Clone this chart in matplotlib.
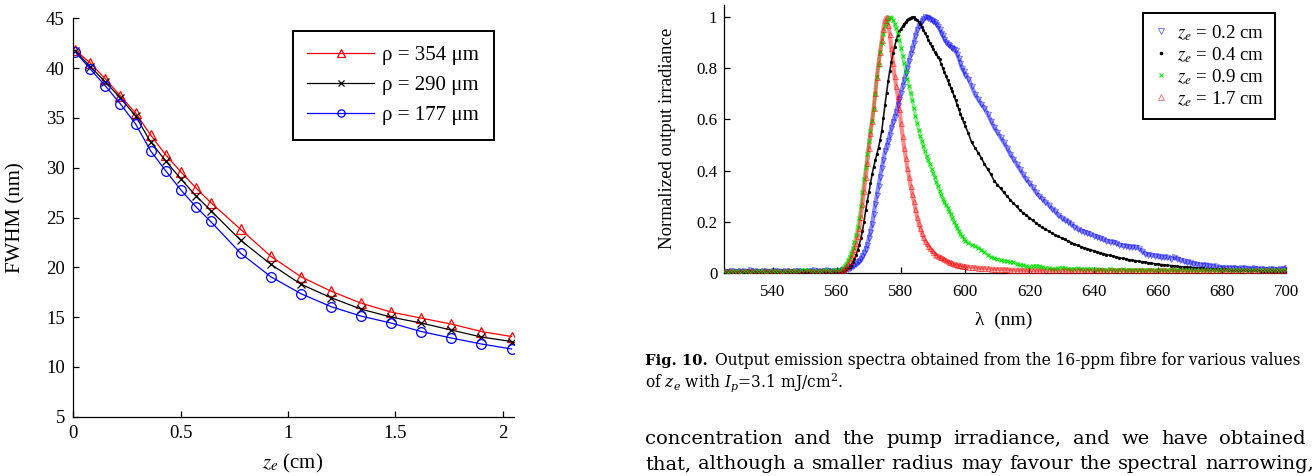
import numpy as np
import matplotlib
matplotlib.use("Agg")
import matplotlib.pyplot as plt

plt.rcParams['font.family'] = 'Liberation Serif'
plt.rcParams['mathtext.fontset'] = 'stix'

TEXT_FONT = 'DejaVu Serif'   # caption / running text of the page

# ---------------------------------------------------------------------------
# FWHM vs z_e for three core radii
# ---------------------------------------------------------------------------
ze_cm = [0.01, 0.08, 0.15, 0.22, 0.29, 0.36, 0.43, 0.50, 0.57, 0.64,
         0.78, 0.92, 1.06, 1.20, 1.34, 1.48, 1.62, 1.76, 1.90, 2.04]
fwhm_354 = [41.8, 40.5, 38.9, 37.2, 35.5, 33.3, 31.3, 29.6, 28.0, 26.5,
            23.8, 21.1, 19.05, 17.6, 16.4, 15.5, 14.9, 14.3, 13.55, 13.05]
fwhm_290 = [41.7, 40.15, 38.6, 37.0, 35.2, 32.6, 30.7, 28.9, 27.2, 25.7,
            22.7, 20.3, 18.3, 16.95, 15.8, 15.0, 14.4, 13.7, 13.0, 12.55]
fwhm_177 = [41.6, 39.9, 38.2, 36.4, 34.4, 31.7, 29.7, 27.8, 26.1, 24.6,
            21.4, 19.05, 17.35, 16.05, 15.1, 14.4, 13.55, 12.9, 12.3, 11.8]
radius_labels = ['ρ = 354 μm', 'ρ = 290 μm', 'ρ = 177 μm']

# ---------------------------------------------------------------------------
# Fig. 10: normalised output spectra, 16-ppm fibre
# wavelength sampling: 1 nm up to 560, 0.5 nm over the peak, 1 nm after 600
# ---------------------------------------------------------------------------
wl_nm = np.concatenate([np.arange(525, 561), np.arange(561, 600.5, 0.5),
                        np.arange(601, 701)])

spec_02 = [
    # 525-560
    0.006, 0.004, 0.008, 0.005, 0.003, 0.007, 0.006, 0.004, 0.009, 0.005, 0.006, 0.003,
    0.007, 0.005, 0.004, 0.008, 0.006, 0.005, 0.003, 0.006, 0.007, 0.004, 0.005, 0.008,
    0.006, 0.004, 0.005, 0.007, 0.009, 0.006, 0.005, 0.008, 0.010, 0.007, 0.006, 0.008,
    # 561-600 (0.5 nm)
    0.008, 0.009, 0.010, 0.012, 0.014, 0.016, 0.019, 0.022, 0.026, 0.030,
    0.034, 0.040, 0.046, 0.055, 0.065, 0.078, 0.092, 0.110, 0.135, 0.160,
    0.190, 0.230, 0.270, 0.305, 0.340, 0.375, 0.410, 0.440, 0.475, 0.495,
    0.515, 0.540, 0.565, 0.590, 0.610, 0.630, 0.655, 0.680, 0.705, 0.730,
    0.755, 0.780, 0.800, 0.830, 0.855, 0.875, 0.900, 0.925, 0.950, 0.965,
    0.975, 0.985, 0.995, 1.000, 1.000, 0.998, 0.995, 0.990, 0.985, 0.980,
    0.975, 0.965, 0.955, 0.940, 0.930, 0.915, 0.905, 0.895, 0.890, 0.885,
    0.880, 0.875, 0.870, 0.855, 0.840, 0.820, 0.800, 0.790, 0.775,
    # 601-700
    0.760, 0.730, 0.700, 0.680, 0.660, 0.645, 0.620, 0.595, 0.570, 0.550,
    0.530, 0.510, 0.490, 0.465, 0.445, 0.425, 0.405, 0.385, 0.365, 0.350,
    0.335, 0.315, 0.300, 0.290, 0.275, 0.265, 0.250, 0.240, 0.225, 0.215,
    0.205, 0.200, 0.190, 0.180, 0.170, 0.165, 0.160, 0.155, 0.150, 0.145,
    0.140, 0.135, 0.130, 0.125, 0.120, 0.120, 0.115, 0.110, 0.105, 0.105,
    0.100, 0.100, 0.100, 0.095, 0.085, 0.075, 0.070, 0.070, 0.065, 0.065,
    0.060, 0.060, 0.060, 0.055, 0.060, 0.055, 0.050, 0.045, 0.040, 0.040,
    0.035, 0.035, 0.030, 0.030, 0.030, 0.025, 0.025, 0.025, 0.020, 0.020,
    0.020, 0.020, 0.018, 0.020, 0.015, 0.018, 0.020, 0.015, 0.015, 0.018,
    0.015, 0.015, 0.015, 0.012, 0.015, 0.015, 0.012, 0.015, 0.015, 0.020,
]

spec_04 = [
    # 525-560
    0.002, 0.002, 0.002, 0.002, 0.002, 0.002, 0.002, 0.002, 0.002, 0.002, 0.002, 0.002,
    0.002, 0.002, 0.002, 0.002, 0.002, 0.002, 0.002, 0.002, 0.002, 0.002, 0.002, 0.002,
    0.002, 0.002, 0.002, 0.002, 0.002, 0.002, 0.002, 0.002, 0.002, 0.003, 0.003, 0.003,
    # 561-600 (0.5 nm)
    0.003, 0.004, 0.006, 0.009, 0.013, 0.018, 0.024, 0.032, 0.041, 0.054,
    0.070, 0.088, 0.110, 0.135, 0.165, 0.200, 0.245, 0.280, 0.315, 0.350,
    0.385, 0.415, 0.440, 0.465, 0.490, 0.520, 0.555, 0.605, 0.655, 0.705,
    0.750, 0.790, 0.825, 0.860, 0.885, 0.910, 0.930, 0.945, 0.955, 0.965,
    0.975, 0.982, 0.990, 0.995, 0.998, 1.000, 1.000, 0.995, 0.990, 0.983,
    0.975, 0.963, 0.950, 0.938, 0.925, 0.912, 0.900, 0.887, 0.875, 0.865,
    0.855, 0.845, 0.835, 0.818, 0.800, 0.785, 0.770, 0.755, 0.740, 0.725,
    0.710, 0.693, 0.675, 0.658, 0.640, 0.622, 0.605, 0.590, 0.575,
    # 601-700
    0.545, 0.510, 0.490, 0.470, 0.450, 0.425, 0.405, 0.385, 0.360, 0.345,
    0.330, 0.315, 0.300, 0.285, 0.272, 0.260, 0.245, 0.235, 0.225, 0.215,
    0.205, 0.195, 0.185, 0.177, 0.170, 0.163, 0.155, 0.148, 0.142, 0.136,
    0.130, 0.124, 0.118, 0.112, 0.107, 0.102, 0.098, 0.094, 0.090, 0.086,
    0.082, 0.078, 0.075, 0.071, 0.068, 0.065, 0.062, 0.059, 0.056, 0.054,
    0.051, 0.049, 0.047, 0.045, 0.043, 0.041, 0.039, 0.037, 0.035, 0.034,
    0.032, 0.031, 0.029, 0.028, 0.027, 0.025, 0.024, 0.023, 0.022, 0.021,
    0.020, 0.019, 0.018, 0.017, 0.016, 0.016, 0.015, 0.014, 0.014, 0.013,
    0.013, 0.012, 0.012, 0.011, 0.011, 0.010, 0.010, 0.010, 0.009, 0.009,
    0.009, 0.008, 0.008, 0.008, 0.007, 0.007, 0.007, 0.006, 0.006, 0.006,
]

spec_09 = [
    # 525-560
    0.005, 0.004, 0.006, 0.005, 0.007, 0.004, 0.005, 0.006, 0.004, 0.005, 0.007, 0.006,
    0.005, 0.004, 0.006, 0.008, 0.005, 0.006, 0.004, 0.005, 0.007, 0.006, 0.005, 0.006,
    0.009, 0.012, 0.010, 0.007, 0.006, 0.008, 0.007, 0.009, 0.010, 0.008, 0.009, 0.011,
    # 561-600 (0.5 nm)
    0.012, 0.015, 0.020, 0.027, 0.035, 0.048, 0.062, 0.078, 0.095, 0.120,
    0.148, 0.180, 0.215, 0.260, 0.315, 0.365, 0.415, 0.465, 0.515, 0.555,
    0.595, 0.640, 0.700, 0.765, 0.815, 0.865, 0.900, 0.935, 0.965, 0.982,
    0.993, 1.000, 0.998, 0.990, 0.975, 0.958, 0.940, 0.910, 0.880, 0.850,
    0.820, 0.790, 0.760, 0.730, 0.705, 0.675, 0.645, 0.615, 0.585, 0.560,
    0.535, 0.515, 0.495, 0.475, 0.455, 0.440, 0.425, 0.405, 0.390, 0.375,
    0.355, 0.340, 0.320, 0.305, 0.290, 0.278, 0.265, 0.255, 0.242, 0.228,
    0.215, 0.200, 0.188, 0.175, 0.163, 0.152, 0.142, 0.133, 0.125,
    # 601-700
    0.118, 0.110, 0.104, 0.098, 0.090, 0.080, 0.070, 0.062, 0.056, 0.052,
    0.050, 0.047, 0.045, 0.042, 0.040, 0.036, 0.032, 0.030, 0.026, 0.023,
    0.025, 0.028, 0.025, 0.021, 0.020, 0.018, 0.016, 0.015, 0.018, 0.020,
    0.018, 0.016, 0.014, 0.015, 0.017, 0.015, 0.013, 0.014, 0.016, 0.013,
    0.012, 0.014, 0.011, 0.012, 0.015, 0.012, 0.010, 0.011, 0.013, 0.010,
    0.011, 0.012, 0.010, 0.009, 0.011, 0.010, 0.012, 0.010, 0.009, 0.010,
    0.011, 0.009, 0.010, 0.012, 0.010, 0.009, 0.011, 0.010, 0.009, 0.010,
    0.012, 0.010, 0.009, 0.011, 0.010, 0.012, 0.010, 0.009, 0.010, 0.011,
    0.010, 0.009, 0.011, 0.010, 0.012, 0.010, 0.009, 0.010, 0.011, 0.010,
    0.009, 0.010, 0.011, 0.010, 0.009, 0.010, 0.012, 0.010, 0.009, 0.010,
]

spec_17 = [
    # 525-560
    0.006, 0.005, 0.007, 0.006, 0.004, 0.006, 0.005, 0.007, 0.006, 0.005, 0.006, 0.004,
    0.006, 0.005, 0.007, 0.006, 0.005, 0.004, 0.006, 0.005, 0.007, 0.006, 0.005, 0.006,
    0.004, 0.006, 0.005, 0.007, 0.006, 0.005, 0.006, 0.005, 0.007, 0.006, 0.007, 0.007,
    # 561-600 (0.5 nm)
    0.008, 0.010, 0.013, 0.018, 0.025, 0.033, 0.045, 0.060, 0.075, 0.092,
    0.115, 0.145, 0.175, 0.220, 0.270, 0.320, 0.375, 0.430, 0.490, 0.545,
    0.595, 0.645, 0.705, 0.765, 0.820, 0.865, 0.910, 0.955, 0.990, 1.000,
    0.970, 0.935, 0.880, 0.820, 0.770, 0.730, 0.690, 0.640, 0.585, 0.535,
    0.490, 0.450, 0.410, 0.375, 0.340, 0.310, 0.280, 0.250, 0.220, 0.195,
    0.175, 0.155, 0.140, 0.125, 0.115, 0.105, 0.095, 0.088, 0.080, 0.075,
    0.070, 0.066, 0.063, 0.060, 0.056, 0.052, 0.048, 0.045, 0.042, 0.040,
    0.037, 0.035, 0.033, 0.032, 0.031, 0.030, 0.028, 0.027, 0.026,
    # 601-700
    0.024, 0.022, 0.021, 0.020, 0.019, 0.018, 0.017, 0.016, 0.015, 0.014,
    0.014, 0.013, 0.013, 0.012, 0.012, 0.011, 0.011, 0.011, 0.010, 0.010,
    0.010, 0.009, 0.010, 0.009, 0.008, 0.009, 0.010, 0.009, 0.008, 0.009,
    0.010, 0.009, 0.008, 0.009, 0.009, 0.010, 0.008, 0.009, 0.009, 0.008,
    0.009, 0.010, 0.009, 0.008, 0.009, 0.009, 0.008, 0.010, 0.009, 0.008,
    0.009, 0.008, 0.009, 0.010, 0.009, 0.008, 0.009, 0.009, 0.008, 0.009,
    0.010, 0.009, 0.008, 0.009, 0.009, 0.008, 0.010, 0.009, 0.008, 0.009,
    0.009, 0.008, 0.009, 0.010, 0.009, 0.008, 0.009, 0.009, 0.008, 0.009,
    0.010, 0.009, 0.008, 0.009, 0.009, 0.008, 0.010, 0.009, 0.008, 0.009,
    0.009, 0.008, 0.009, 0.010, 0.009, 0.008, 0.009, 0.009, 0.008, 0.009,
]
spectra_labels = ['$z_e$ = 0.2 cm', '$z_e$ = 0.4 cm', '$z_e$ = 0.9 cm', '$z_e$ = 1.7 cm']

for s in (spec_02, spec_04, spec_09, spec_17):
    assert len(s) == len(wl_nm), len(s)

# ---------------------------------------------------------------------------
W, H = 1312, 476
fig = plt.figure(figsize=(W / 100, H / 100), dpi=100)


def px_box(x0, y0, x1, y1):
    # pixel box measured from the top-left corner -> figure fraction rect
    return [x0 / W, 1 - y1 / H, (x1 - x0) / W, (y1 - y0) / H]


def style_axes(ax, fs, pad):
    for side in ('top', 'right'):
        ax.spines[side].set_visible(False)
    for side in ('left', 'bottom'):
        ax.spines[side].set_linewidth(0.9)
    ax.tick_params(direction='in', length=4, width=0.9, labelsize=fs, pad=pad)


# ---- left panel -----------------------------------------------------------
ax1 = fig.add_axes(px_box(73.2, 18.3, 514.3, 416.7))
ax1.plot(ze_cm, fwhm_354, color='red', lw=0.9, marker='^', ms=7, mfc='none',
         mew=0.9, label=radius_labels[0])
ax1.plot(ze_cm, fwhm_290, color='black', lw=0.9, marker='x', ms=6, mew=0.9,
         label=radius_labels[1])
ax1.plot(ze_cm, fwhm_177, color='blue', lw=0.9, marker='o', ms=7, mfc='none',
         mew=0.9, label=radius_labels[2])
ax1.set_xlim(0, 2.053)
ax1.set_ylim(5, 45)
ax1.set_xticks([0, 0.5, 1, 1.5, 2])
ax1.set_xticklabels(['0', '0.5', '1', '1.5', '2'])
ax1.set_yticks(range(5, 50, 5))
style_axes(ax1, 13.5, 6)
ax1.set_xlabel('$z_e$ (cm)', fontsize=15)
ax1.set_ylabel('FWHM (nm)', fontsize=15)
ax1.xaxis.label.set_va('center')
ax1.yaxis.label.set_va('center')
ax1.xaxis.set_label_coords((293 - 73.2) / 441.1, (416.7 - 463) / 398.4)
ax1.yaxis.set_label_coords((16 - 73.2) / 441.1, 0.5)
leg1 = ax1.legend(loc='upper left', bbox_to_anchor=(292.7 / W, 1 - 31 / H),
                  bbox_transform=fig.transFigure, borderaxespad=0,
                  fontsize=15, frameon=True, fancybox=False, framealpha=1,
                  edgecolor='black', handlelength=3.2, handletextpad=0.4,
                  borderpad=0.7, labelspacing=0.5, markerscale=0.75)
leg1.get_frame().set_linewidth(1.4)

# ---- right panel ----------------------------------------------------------
ax2 = fig.add_axes(px_box(724.4, 4.5, 1286.3, 272.7))
series = [
    (spec_02, dict(marker='v', ms=3.6, mfc='none', mec=(0, 0, 1, 0.6), mew=0.6), 'blue', 3.0, 0.45),
    (spec_04, dict(marker='.', ms=2.6, color='black'), 'black', 1.2, 0.9),
    (spec_09, dict(marker='x', ms=3.0, color='#00e000', mew=0.7), '#00e000', 2.4, 0.45),
    (spec_17, dict(marker='^', ms=3.6, mfc='none', mec=(1, 0, 0, 0.6), mew=0.6), 'red', 3.0, 0.45),
]
for (vals, mstyle, band_col, band_lw, band_alpha), lab in zip(series, spectra_labels):
    # densely sampled spectra: the marker trail reads as a continuous band
    ax2.plot(wl_nm, vals, color=band_col, lw=band_lw, alpha=band_alpha,
             solid_joinstyle='round', zorder=2)
    ax2.plot(wl_nm, vals, ls='none', label=lab, zorder=3, **mstyle)
ax2.set_xlim(525, 700)
ax2.set_ylim(0, 1.05)
ax2.set_xticks(range(540, 701, 20))
ax2.set_yticks([0, 0.2, 0.4, 0.6, 0.8, 1.0])
ax2.set_yticklabels(['0', '0.2', '0.4', '0.6', '0.8', '1'])
style_axes(ax2, 12.2, 5)
ax2.tick_params(axis='x', pad=8)
ax2.set_xlabel('λ  (nm)', fontsize=14)
ax2.set_ylabel('Normalized output irradiance', fontsize=13.5)
ax2.xaxis.label.set_va('center')
ax2.yaxis.label.set_va('center')
ax2.xaxis.set_label_coords((1004 - 724.4) / 561.9, (272.7 - 320) / 268.2)
ax2.yaxis.set_label_coords((668 - 724.4) / 561.9, 0.502)
leg2 = ax2.legend(loc='upper left', bbox_to_anchor=(1143 / W, 1 - 12.7 / H),
                  bbox_transform=fig.transFigure, borderaxespad=0,
                  fontsize=13.6, frameon=True, fancybox=False, framealpha=1,
                  edgecolor='black', handlelength=0.8, handletextpad=0.45,
                  borderpad=0.55, labelspacing=0.12, numpoints=1, markerscale=1.2)
leg2.get_frame().set_linewidth(1.4)

# ---- caption and running text ---------------------------------------------
renderer = fig.canvas.get_renderer()


def page_text(x, y, s, size, **kw):
    return fig.text(x / W, 1 - y / H, s, family=TEXT_FONT, fontsize=size,
                    va='baseline', ha='left', **kw)


def justify(words, x0, x1, y, size):
    objs = [page_text(0, y, w, size) for w in words]
    widths = [o.get_window_extent(renderer).width for o in objs]
    gap = (x1 - x0 - sum(widths)) / (len(objs) - 1)
    x = x0
    for o, w in zip(objs, widths):
        o.set_x(x / W)
        x += w + gap


CAP = 11.2
fig_no = page_text(645, 365, 'Fig. 10.', 10.6, weight='bold')
cap_x = max(710.5, 645 + fig_no.get_window_extent(renderer).width + 7)
page_text(cap_x, 365, 'Output emission spectra obtained from the 16-ppm fibre for various values', CAP)
page_text(645, 387.5, 'of $z_e$ with $I_p$=3.1 mJ/cm$^2$.', CAP, math_fontfamily='dejavuserif')

justify('concentration and the pump irradiance, and we have obtained'.split(),
        645, 1306, 443.5, 14.0)
justify('that, although a smaller radius may favour the spectral narrowing,'.split(),
        645, 1314, 469, 14.0)

fig.savefig('out.png', dpi=100)
